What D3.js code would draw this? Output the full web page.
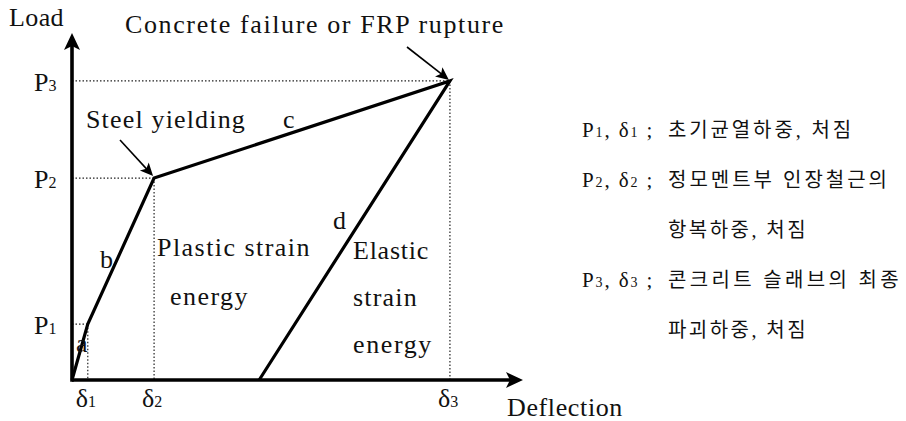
<!DOCTYPE html>
<html>
<head>
<meta charset="utf-8">
<script src="https://cdn.jsdelivr.net/npm/d3@7"></script>
<style>
  body { margin: 0; background: #fff; }
  svg text { font-family: "Liberation Serif", "Noto Sans CJK KR", serif; fill: #111; }
</style>
</head>
<body>
<div id="chart"></div>
<script>
// load-deflection curve: origin -> P1 -> P2 -> P3 -> unloading point
const pointNames = ["O", "P1", "P2", "P3", "U"];
const deflectionVals = [0, 3.5, 18.2, 83.8, 41.5];
const loadVals = [0, 16.1, 58.2, 86.2, 0];
const segmentLabels = ["a", "b", "c", "d"];
const pointSubs = ["1", "2", "3"];          // P / δ subscripts
const legendLines = [
  { sub: "1", text: "초기균열하중, 처짐", w: 186 },
  { sub: "2", text: "정모멘트부 인장철근의", w: 222 },
  { sub: null, text: "항복하중, 처짐", w: 140 },
  { sub: "3", text: "콘크리트 슬래브의 최종", w: 234 },
  { sub: null, text: "파괴하중, 처짐", w: 140 }
];

const W = 906, H = 421;
const svg = d3.select("#chart").append("svg").attr("width", W).attr("height", H);

const x = d3.scaleLinear().domain([0, 100]).range([72, 523]);
const y = d3.scaleLinear().domain([0, 100]).range([380, 33]);

const pts = pointNames.map((n, i) => ({ name: n, dx: deflectionVals[i], ld: loadVals[i] }));
const P = pts.slice(1, 4);

// helper: stretch text to a target width with letter spacing
function fitWidth(sel, w) {
  sel.each(function () {
    const len = this.getComputedTextLength();
    const n = this.textContent.length;
    if (n > 1) d3.select(this).attr("letter-spacing", (w - len) / n);
  });
}

// --- dotted guide lines ---
const guides = svg.append("g").attr("stroke", "#222").attr("stroke-width", 1.2).attr("stroke-dasharray", "1.5,2");
P.forEach(p => {
  guides.append("line").attr("x1", x(0)).attr("x2", x(p.dx)).attr("y1", y(p.ld)).attr("y2", y(p.ld));
  guides.append("line").attr("x1", x(p.dx)).attr("x2", x(p.dx)).attr("y1", y(p.ld)).attr("y2", y(0));
});

// --- curve ---
svg.append("path")
  .datum(pts)
  .attr("fill", "none")
  .attr("stroke", "#000")
  .attr("stroke-width", 3.2)
  .attr("stroke-linejoin", "miter")
  .attr("d", d3.line().x(d => x(d.dx)).y(d => y(d.ld)));

// --- axes ---
function arrowHead(tx, ty, angle, len, half, notch) {
  const a = angle * Math.PI / 180;
  const ux = Math.cos(a), uy = Math.sin(a);
  const px = -uy, py = ux;
  const bx = tx - ux * len, by = ty - uy * len;
  const nx = tx - ux * (len - notch), ny = ty - uy * (len - notch);
  return `M${tx},${ty}L${bx + px * half},${by + py * half}L${nx},${ny}L${bx - px * half},${by - py * half}Z`;
}
const axisG = svg.append("g");
axisG.append("line").attr("x1", x(0)).attr("x2", x(100) - 8).attr("y1", y(0)).attr("y2", y(0))
  .attr("stroke", "#000").attr("stroke-width", 3.6);
axisG.append("line").attr("x1", x(0)).attr("x2", x(0)).attr("y1", y(0) + 1.8).attr("y2", y(100) + 8)
  .attr("stroke", "#000").attr("stroke-width", 3.6);
axisG.append("path").attr("d", arrowHead(x(100), y(0), 0, 17, 8, 4)).attr("fill", "#000");
axisG.append("path").attr("d", arrowHead(x(0), y(100), -90, 17, 8, 4)).attr("fill", "#000");

// --- annotation arrows ---
function annotArrow(x1, y1, tx, ty) {
  const ang = Math.atan2(ty - y1, tx - x1) * 180 / Math.PI;
  const a = ang * Math.PI / 180;
  svg.append("line").attr("x1", x1).attr("y1", y1)
    .attr("x2", tx - Math.cos(a) * 8).attr("y2", ty - Math.sin(a) * 8)
    .attr("stroke", "#000").attr("stroke-width", 1.6);
  svg.append("path").attr("d", arrowHead(tx, ty, ang, 13, 6, 3)).attr("fill", "#000");
}
annotArrow(120, 140, x(P[1].dx) - 1, y(P[1].ld) - 2);
annotArrow(407, 47, x(P[2].dx) - 1, y(P[2].ld) - 1);

// --- texts ---
const FS = 26;
function label(txt, tx, ty, size, w) {
  const t = svg.append("text").attr("x", tx).attr("y", ty).attr("font-size", size).text(txt);
  if (w) fitWidth(t, w);
  return t;
}
label("Load", 9, 26, FS, 55);
label("Concrete failure or FRP rupture", 125, 33, FS, 380);
label("Steel yielding", 86, 128, FS, 160);
label("Deflection", 507, 416, FS, 116);
label("Plastic strain", 157, 256, FS, 154);
label("energy", 170, 305, FS, 79);
label("Elastic", 353, 259, FS, 76);
label("strain", 353, 306, FS, 65);
label("energy", 353, 353, FS, 80);

// segment letters
const segPos = [[76, 352], [100, 268], [283, 128], [333, 229]];
segmentLabels.forEach((s, i) => label(s, segPos[i][0], segPos[i][1], FS));

// P labels
P.forEach((p, i) => {
  const t = svg.append("text").attr("x", 34).attr("y", y(p.ld) + 10).attr("font-size", FS);
  t.append("tspan").text("P");
  t.append("tspan").attr("font-size", 16).text(pointSubs[i]);
});
// δ labels
P.forEach((p, i) => {
  const t = svg.append("text").attr("x", x(p.dx) - 12).attr("y", 407).attr("font-size", FS);
  t.append("tspan").text("δ");
  t.append("tspan").attr("font-size", 16).text(pointSubs[i]);
});

// --- legend ---
const legendY = [137, 187, 237, 287, 337];
legendLines.forEach((l, i) => {
  if (l.sub) {
    const t = svg.append("text").attr("x", 582).attr("y", legendY[i]).attr("font-size", 21);
    t.append("tspan").text("P");
    t.append("tspan").attr("font-size", 14).text(l.sub);
    t.append("tspan").text(",  δ");
    t.append("tspan").attr("font-size", 14).text(l.sub);
    t.append("tspan").text("  ;");
    fitWidth(t, 76);
  }
  const k = svg.append("text").attr("x", 668).attr("y", legendY[i]).attr("font-size", 20).text(l.text);
  fitWidth(k, l.w);
});
</script>
</body>
</html>
